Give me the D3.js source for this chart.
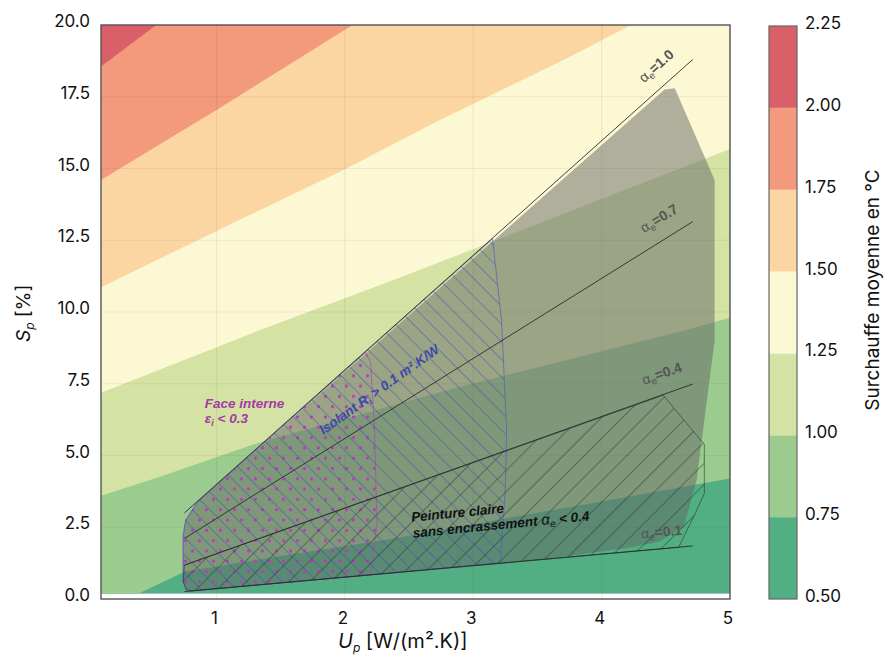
<!DOCTYPE html>
<html>
<head>
<meta charset="utf-8">
<script src="https://cdn.jsdelivr.net/npm/d3@7"></script>
<style>
  body { margin: 0; background: #fff; }
  svg { display: block; }
  text { font-family: "Liberation Sans", Arial, sans-serif; }
  .ui { font-family: Inter, "Liberation Sans", Arial, sans-serif; }
</style>
</head>
<body>
<svg id="chart"></svg>
<script>
var width = 884;
var height = 657;

// contour levels (°C) and the band colours between them
var levels = [0.5, 0.75, 1.0, 1.25, 1.5, 1.75, 2.0, 2.25];
var bandColors = ["#52ae83", "#9bcb8f", "#d4e2a4", "#fdf8d4", "#fbd6a2", "#f3997c", "#d95f69"];

// iso-lines between the bands, points are [Up, Sp]
var iso075 = [[0.39, 0.18], [0.75, 0.95], [1.5, 1.5], [2.3, 2.05], [4.0, 3.4], [5.0, 4.2]];
var iso100 = [[0.1, 3.6], [0.56, 4.26], [1.31, 5.42], [2.9, 7.4], [4.66, 9.37], [5.0, 9.8]];
var iso125 = [[0.1, 7.19], [1.34, 9.37], [2.43, 11.2], [3.78, 13.55], [5.0, 15.68]];
var iso150 = [[0.1, 10.86], [1.0, 12.82], [2.0, 14.97], [2.74, 16.69], [3.73, 18.84], [4.23, 20]];
var iso175 = [[0.1, 14.6], [0.43, 15.5], [1.0, 17.04], [2.06, 20]];
var iso200 = [[0.1, 18.55], [0.53, 20]];
var isoLines = [iso075, iso100, iso125, iso150, iso175, iso200];

// alpha_e lines
var alphaNames = ["1.0", "0.7", "0.4", "0.1"];
var alphaStart = [[0.75, 3.0], [0.75, 2.11], [0.75, 1.18], [0.75, 0.26]];
var alphaEnd = [[4.71, 18.8], [4.71, 13.15], [4.71, 7.49], [4.71, 1.85]];
var alphaLabelAt = [[4.33, 17.97], [4.33, 12.74], [4.33, 7.46], [4.31, 2.11]];

// reachable zone (grey) and the three hatched zones
var greyZone = [[0.80, 0.28], [0.765, 0.33], [0.74, 0.6], [0.74, 2.2], [0.76, 2.75], [0.85, 3.37],
  [4.49, 17.75], [4.57, 17.8], [4.88, 14.6], [4.88, 9.0], [4.74, 4.15], [4.64, 2.52],
  [4.45, 2.0], [4.2, 1.78], [3.6, 1.42], [3.0, 1.16]];
var isolantZone = [[0.80, 0.28], [0.765, 0.33], [0.74, 0.6], [0.74, 2.2], [0.76, 2.75], [0.85, 3.37],
  [3.15, 12.55], [3.22, 9.72], [3.26, 5.89], [3.25, 3.8], [3.21, 1.26]];
var faceZone = [[0.80, 0.28], [0.765, 0.33], [0.74, 0.6], [0.74, 2.2], [0.76, 2.75], [0.85, 3.37],
  [2.16, 8.6], [2.2, 8.25], [2.23, 6.0], [2.25, 2.6], [2.2, 0.84]];
var peintureZone = [[0.80, 0.28], [0.765, 0.33], [0.74, 0.6], [0.75, 1.18], [4.48, 7.1],
  [4.77, 5.54], [4.8, 5.39], [4.8, 3.68], [4.73, 2.99], [4.6, 1.8]];

var xTicks = [1, 2, 3, 4, 5];
var yTicks = [0, 2.5, 5, 7.5, 10, 12.5, 15, 17.5, 20];
var sMin = 0.18;

var svg = d3.select("#chart").attr("width", width).attr("height", height);

var x = d3.scaleLinear().domain([0.1, 5]).range([101, 730]);
var y = d3.scaleLinear().domain([0, 20]).range([599, 25]);
var cb = d3.scaleLinear().domain([0.5, 2.25]).range([599, 26]);

var line = d3.line()
  .x(function (d) { return x(d[0]); })
  .y(function (d) { return y(d[1]); });

var defs = svg.append("defs");
defs.append("clipPath").attr("id", "plotClip")
  .append("rect")
  .attr("x", x(0.1)).attr("y", y(20))
  .attr("width", x(5) - x(0.1)).attr("height", y(sMin) - y(20));

function hatch(id, angle, gap, color, w) {
  var p = defs.append("pattern").attr("id", id)
    .attr("patternUnits", "userSpaceOnUse")
    .attr("width", gap).attr("height", gap)
    .attr("patternTransform", "rotate(" + angle + ")");
  p.append("line").attr("x1", 0).attr("y1", 0).attr("x2", 0).attr("y2", gap)
    .attr("stroke", color).attr("stroke-width", w);
}
hatch("blueHatch", -45, 12.5, "#3a48b8", 0.9);
hatch("blackHatch", 45, 15, "#262626", 0.85);

var dots = defs.append("pattern").attr("id", "dots")
  .attr("patternUnits", "userSpaceOnUse")
  .attr("width", 14).attr("height", 20.6);
dots.append("circle").attr("cx", 3.5).attr("cy", 5).attr("r", 1.6).attr("fill", "#bb38bb");
dots.append("circle").attr("cx", 10.5).attr("cy", 15.3).attr("r", 1.6).attr("fill", "#bb38bb");

// filled contour bands
var plot = svg.append("g").attr("clip-path", "url(#plotClip)");
plot.append("rect")
  .attr("x", x(0.1)).attr("y", y(20))
  .attr("width", x(5) - x(0.1)).attr("height", y(sMin) - y(20))
  .attr("fill", bandColors[0]);

isoLines.forEach(function (pts, i) {
  var poly = pts.slice();
  if (poly[0][0] > 0.1) poly.unshift([0.1, sMin]);
  if (poly[poly.length - 1][0] >= 5) poly.push([5, 20]);
  poly.push([0.1, 20]);
  plot.append("path")
    .attr("d", line(poly) + "Z")
    .attr("fill", bandColors[i + 1]);
});

// grid
var grid = svg.append("g");
grid.selectAll(".gx").data(xTicks).enter().append("line")
  .attr("x1", function (d) { return x(d); }).attr("x2", function (d) { return x(d); })
  .attr("y1", y(20)).attr("y2", y(0))
  .attr("stroke", "rgba(90,80,40,0.09)").attr("stroke-width", 1.2);
grid.selectAll(".gy").data(yTicks).enter().append("line")
  .attr("x1", x(0.1)).attr("x2", x(5))
  .attr("y1", function (d) { return y(d); }).attr("y2", function (d) { return y(d); })
  .attr("stroke", "rgba(90,80,40,0.09)").attr("stroke-width", 1.2);

// grey zone
svg.append("path").attr("d", line(greyZone) + "Z")
  .attr("fill", "rgba(98,101,99,0.5)");

// hatched zones
svg.append("path").attr("d", line(faceZone) + "Z")
  .attr("fill", "url(#dots)").attr("stroke", "#a74aae").attr("stroke-width", 0.7);
svg.append("path").attr("d", line(isolantZone) + "Z")
  .attr("fill", "url(#blueHatch)").attr("stroke", "#5060c0").attr("stroke-width", 0.7);
svg.append("path").attr("d", line(peintureZone) + "Z")
  .attr("fill", "url(#blackHatch)").attr("stroke", "#333").attr("stroke-width", 0.6);

// alpha_e lines with labels
alphaNames.forEach(function (name, i) {
  var a = alphaStart[i], b = alphaEnd[i];
  svg.append("line")
    .attr("x1", x(a[0])).attr("y1", y(a[1]))
    .attr("x2", x(b[0])).attr("y2", y(b[1]))
    .attr("stroke", "#2b2b2b").attr("stroke-width", 0.9);
  var ang = Math.atan2(y(b[1]) - y(a[1]), x(b[0]) - x(a[0])) * 180 / Math.PI;
  var p = alphaLabelAt[i];
  var t = svg.append("text")
    .attr("transform", "translate(" + x(p[0]) + "," + y(p[1]) + ")rotate(" + ang + ")")
    .attr("fill", "#555").style("font-size", "14px");
  t.append("tspan").text("α");
  t.append("tspan").attr("dy", 3).style("font-size", "10px").text("e");
  t.append("tspan").attr("dy", -3).style("font-weight", "bold").text("=" + name);
});

// zone annotations
var face = svg.append("text")
  .attr("x", x(0.909)).attr("y", y(6.655))
  .attr("fill", "#a63aa3")
  .style("font-size", "13.5px").style("font-weight", "bold").style("font-style", "italic");
face.append("tspan").text("Face interne");
var face2 = svg.append("text")
  .attr("x", x(0.909)).attr("y", y(6.655) + 15)
  .attr("fill", "#a63aa3")
  .style("font-size", "13.5px").style("font-weight", "bold").style("font-style", "italic");
face2.append("tspan").text("ε");
face2.append("tspan").attr("dy", 3).style("font-size", "9px").text("i");
face2.append("tspan").attr("dy", -3).text(" < 0.3");

var iso = svg.append("text")
  .attr("transform", "translate(" + x(1.831) + "," + y(5.71) + ")rotate(-35.5)")
  .attr("fill", "#3b4aa8")
  .style("font-size", "13.5px").style("font-weight", "bold").style("font-style", "italic");
iso.append("tspan").text("Isolant R");
iso.append("tspan").attr("dy", 3).style("font-size", "9px").text("i");
iso.append("tspan").attr("dy", -3).text(" > 0.1 m²");
iso.append("tspan").text(".K/W");

var pein = svg.append("g")
  .attr("transform", "translate(" + x(2.52) + "," + y(2.69) + ")rotate(-5.6)")
  .style("font-size", "13.5px").style("font-weight", "bold").style("font-style", "italic");
pein.append("text").attr("fill", "#111").text("Peinture claire");
var pein2 = pein.append("text").attr("y", 16).attr("fill", "#111");
pein2.append("tspan").text("sans encrassement ");
pein2.append("tspan").style("font-weight", "normal").style("font-size", "15px").text("α");
pein2.append("tspan").attr("dy", 3).style("font-size", "10px").style("font-weight", "normal").text("e");
pein2.append("tspan").attr("dy", -3).text(" < 0.4");

// frame
svg.append("rect")
  .attr("x", x(0.1)).attr("y", y(20))
  .attr("width", x(5) - x(0.1)).attr("height", y(0) - y(20))
  .attr("fill", "none").attr("stroke", "#555").attr("stroke-width", 1.4);

// tick labels
svg.selectAll(".xt").data(xTicks).enter().append("text")
  .attr("class", "ui")
  .attr("x", function (d) { return x(d) - 2; }).attr("y", 624)
  .attr("text-anchor", "middle").style("font-size", "17px").attr("fill", "#111")
  .text(function (d) { return d; });
svg.selectAll(".yt").data(yTicks).enter().append("text")
  .attr("class", "ui")
  .attr("x", 90).attr("y", function (d) { return y(d) + 2; })
  .attr("text-anchor", "end").style("font-size", "17px").attr("fill", "#111")
  .text(function (d) { return d3.format(".1f")(d); });

// axis titles
var xt = svg.append("text").attr("class", "ui").attr("x", 338).attr("y", 648)
  .style("font-size", "20px").attr("fill", "#111");
xt.append("tspan").style("font-style", "italic").text("U");
xt.append("tspan").attr("dy", 4).style("font-style", "italic").style("font-size", "12px").text("p");
xt.append("tspan").attr("dy", -4).text(" [W/(m².K)]");

var yt = svg.append("text").attr("class", "ui")
  .attr("transform", "translate(30,342)rotate(-90)")
  .style("font-size", "19px").attr("fill", "#111");
yt.append("tspan").style("font-style", "italic").text("S");
yt.append("tspan").attr("dy", 4).style("font-style", "italic").style("font-size", "12px").text("p");
yt.append("tspan").attr("dy", -4).text(" [%]");

// colour bar
var bar = svg.append("g");
bar.selectAll("rect").data(bandColors).enter().append("rect")
  .attr("x", 769).attr("width", 28)
  .attr("y", function (d, i) { return cb(levels[i + 1]); })
  .attr("height", function (d, i) { return cb(levels[i]) - cb(levels[i + 1]); })
  .attr("fill", function (d) { return d; });
bar.append("rect").attr("x", 769).attr("y", cb(2.25)).attr("width", 28)
  .attr("height", cb(0.5) - cb(2.25))
  .attr("fill", "none").attr("stroke", "#666").attr("stroke-width", 1.2);
bar.selectAll("text").data(levels).enter().append("text")
  .attr("class", "ui")
  .attr("x", 805).attr("y", function (d) { return cb(d) + 3; })
  .style("font-size", "17px").attr("fill", "#111")
  .text(function (d) { return d3.format(".2f")(d); });
svg.append("text").attr("class", "ui")
  .attr("transform", "translate(879,290)rotate(-90)")
  .attr("text-anchor", "middle").style("font-size", "19px").attr("fill", "#111")
  .text("Surchauffe moyenne en °C");
</script>
</body>
</html>
